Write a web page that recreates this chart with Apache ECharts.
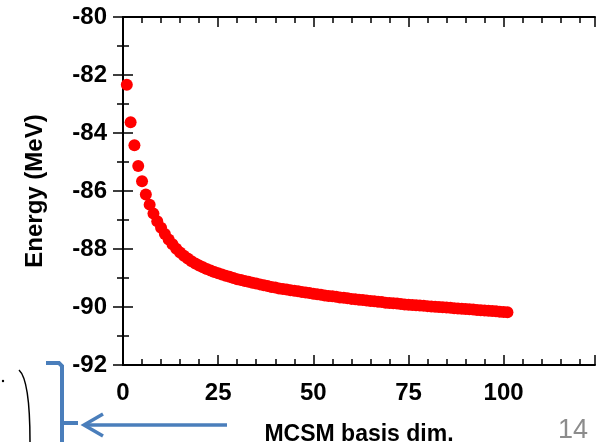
<!DOCTYPE html>
<html>
<head>
<meta charset="utf-8">
<script src="https://cdn.jsdelivr.net/npm/echarts@6/dist/echarts.min.js"></script>
<style>
html,body{margin:0;padding:0;background:#fff;}
#chart{width:598px;height:442px;}
</style>
</head>
<body>
<div id="chart"></div>
<script>
// ---- data ----
const basisDims = [1,2,3,4,5,6,7,8,9,10,11,12,13,14,15,16,17,18,19,20,21,22,23,24,25,26,27,28,29,30,31,32,33,34,35,36,37,38,39,40,41,42,43,44,45,46,47,48,49,50,51,52,53,54,55,56,57,58,59,60,61,62,63,64,65,66,67,68,69,70,71,72,73,74,75,76,77,78,79,80,81,82,83,84,85,86,87,88,89,90,91,92,93,94,95,96,97,98,99,100,101];
const energies = [-82.34,-83.63,-84.42,-85.14,-85.66,-86.12,-86.47,-86.78,-87.04,-87.27,
  -87.48,-87.67,-87.84,-87.99,-88.12,-88.23,-88.33,-88.42,-88.50,-88.57,
  -88.63,-88.69,-88.74,-88.79,-88.84,-88.88,-88.92,-88.96,-89.00,-89.04,
  -89.07,-89.10,-89.13,-89.16,-89.19,-89.22,-89.25,-89.28,-89.31,-89.33,
  -89.36,-89.38,-89.40,-89.42,-89.44,-89.46,-89.48,-89.50,-89.52,-89.54,
  -89.56,-89.58,-89.60,-89.62,-89.63,-89.65,-89.67,-89.68,-89.70,-89.72,
  -89.73,-89.75,-89.76,-89.78,-89.79,-89.80,-89.82,-89.83,-89.85,-89.86,
  -89.87,-89.88,-89.90,-89.91,-89.92,-89.93,-89.94,-89.95,-89.96,-89.97,
  -89.98,-89.99,-90.00,-90.01,-90.02,-90.03,-90.04,-90.05,-90.06,-90.07,
  -90.08,-90.09,-90.10,-90.11,-90.12,-90.13,-90.14,-90.15,-90.16,-90.17,-90.18];
const xTickLabels = ['0','25','50','75','100'];
const yTickLabels = ['-92','-90','-88','-86','-84','-82','-80'];
const xTitle = 'MCSM basis dim.';
const yTitle = 'Energy (MeV)';
const pageNumber = '14';

const FONT = '"Liberation Sans", Arial, sans-serif';
const points = basisDims.map((d, i) => [d, energies[i]]);

const axisLineStyle = { show: true, lineStyle: { color: '#000', width: 2 } };
const commonX = {
  type: 'value', min: 0, max: 124, interval: 25,
  axisLine: axisLineStyle,
  splitLine: { show: false },
  axisTick: { show: true, inside: true, length: 10, lineStyle: { color: '#000', width: 1.5 } },
  minorTick: { show: true, splitNumber: 5, length: 6, lineStyle: { color: '#000', width: 1.5 } },
  minorSplitLine: { show: false }
};
const commonY = {
  type: 'value', min: -92, max: -80, interval: 2,
  axisLine: axisLineStyle,
  splitLine: { show: false },
  axisTick: { show: true, inside: true, length: 10, lineStyle: { color: '#000', width: 1.5 } },
  minorTick: { show: true, splitNumber: 2, length: 6, lineStyle: { color: '#000', width: 1.5 } },
  minorSplitLine: { show: false }
};

const chart = echarts.init(document.getElementById('chart'), null, { renderer: 'canvas' });
chart.setOption({
  backgroundColor: '#fff',
  animation: false,
  grid: { left: 123, right: 3, top: 17, bottom: 77, containLabel: false, outerBoundsMode: 'none' },
  xAxis: [
    Object.assign({}, commonX, {
      position: 'bottom',
      name: xTitle, nameLocation: 'middle', nameGap: 58,
      nameTextStyle: { fontFamily: FONT, fontWeight: 'bold', fontSize: 23, color: '#000', verticalAlign: 'top' },
      axisLabel: {
        show: true, margin: 16, color: '#000', fontFamily: FONT, fontWeight: 'bold', fontSize: 24,
        formatter: v => xTickLabels.indexOf(String(v)) >= 0 ? String(v) : ''
      }
    }),
    Object.assign({}, commonX, { position: 'top', axisLabel: { show: false } })
  ],
  yAxis: [
    Object.assign({}, commonY, {
      position: 'left',
      name: yTitle, nameLocation: 'middle', nameGap: 76, nameRotate: 90,
      nameTextStyle: { fontFamily: FONT, fontWeight: 'bold', fontSize: 24, color: '#000' },
      axisLabel: {
        show: true, margin: 16, color: '#000', fontFamily: FONT, fontWeight: 'bold', fontSize: 24,
        formatter: v => yTickLabels.indexOf(String(v)) >= 0 ? String(v) : ''
      }
    }),
    Object.assign({}, commonY, { position: 'right', axisLabel: { show: false } })
  ],
  series: [{
    type: 'scatter',
    xAxisIndex: 0, yAxisIndex: 0,
    data: points,
    symbol: 'circle',
    symbolSize: 12,
    itemStyle: { color: '#ff0000', opacity: 1 },
    z: 3
  }],
  graphic: [
    // slide decorations around the plot
    { type: 'polyline', shape: { points: [[46,363],[59,363],[62,366],[62,442]] },
      style: { stroke: '#4a7ebb', lineWidth: 4, fill: null } },
    { type: 'line', shape: { x1: 62, y1: 423, x2: 78, y2: 423 },
      style: { stroke: '#4a7ebb', lineWidth: 4 } },
    { type: 'line', shape: { x1: 85, y1: 425, x2: 227, y2: 425 },
      style: { stroke: '#4a7ebb', lineWidth: 3.5 } },
    { type: 'polyline', shape: { points: [[103,414],[84,425],[103,436]] },
      style: { stroke: '#4a7ebb', lineWidth: 3.5, fill: null } },
    { type: 'bezierCurve', shape: { x1: 19, y1: 370, cpx1: 30, cpy1: 380, x2: 30, y2: 442 },
      style: { stroke: '#000', lineWidth: 1.5, fill: null } },
    { type: 'circle', shape: { cx: 3, cy: 381, r: 1.2 }, style: { fill: '#000' } },
    { type: 'text', left: 558, top: 417,
      style: { text: pageNumber, fill: '#8c8c8c', font: '27px ' + FONT } }
  ]
});
</script>
</body>
</html>
